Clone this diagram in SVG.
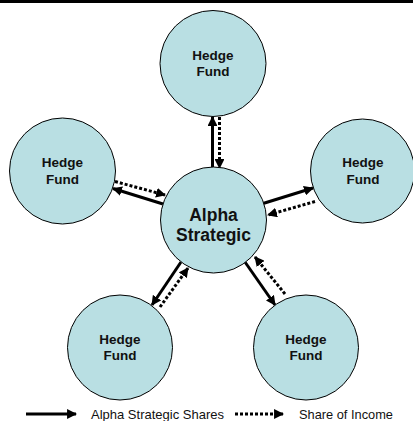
<svg xmlns="http://www.w3.org/2000/svg" width="413" height="421" viewBox="0 0 413 421">
  <style>
    .node { fill: #b9dfe3; stroke: #000; stroke-width: 1; }
    .lbl { font-family: "Liberation Sans", Arial, sans-serif; font-weight: bold; fill: #111; text-anchor: middle; }
    .fund { font-size: 13.5px; }
    .hub { font-size: 17.5px; }
    .solid { stroke: #000; stroke-width: 3; fill: none; marker-end: url(#head); }
    .dotted { stroke: #000; stroke-width: 3; stroke-dasharray: 3 2; fill: none; marker-end: url(#head); }
    .legend { font-family: "Liberation Sans", Arial, sans-serif; font-size: 13px; fill: #111; }
  </style>
  <defs>
    <marker id="head" viewBox="0 0 10 10" refX="9" refY="5" markerWidth="3.3" markerHeight="3.3" orient="auto" markerUnits="strokeWidth">
      <path d="M0,0 L10,5 L0,10 z" fill="#000"/>
    </marker>
  </defs>

  <rect x="0" y="0" width="413" height="3" fill="#000"/>

  <g id="connectors">
    <!-- top -->
    <line class="solid" x1="212.5" y1="167" x2="212.5" y2="117"/>
    <line class="dotted" x1="219.5" y1="117" x2="219.5" y2="168"/>
    <!-- left -->
    <line class="solid" x1="163" y1="204" x2="113" y2="188.5"/>
    <line class="dotted" x1="115" y1="181.5" x2="165" y2="195"/>
    <!-- right -->
    <line class="solid" x1="263" y1="203.5" x2="313" y2="188"/>
    <line class="dotted" x1="315" y1="201.5" x2="268" y2="215"/>
    <!-- bottom left -->
    <line class="solid" x1="181" y1="262" x2="152" y2="305"/>
    <line class="dotted" x1="160" y1="307" x2="188" y2="268"/>
    <!-- bottom right -->
    <line class="solid" x1="245" y1="262" x2="275" y2="305"/>
    <line class="dotted" x1="285" y1="294" x2="255" y2="257"/>
  </g>

  <g id="hub">
    <circle class="node" cx="213.5" cy="220" r="53"/>
    <text class="lbl hub" x="213.5" y="221">Alpha</text>
    <text class="lbl hub" x="213.5" y="240.5">Strategic</text>
  </g>
  <g id="fund-top">
    <circle class="node" cx="213" cy="63.5" r="53"/>
    <text class="lbl fund" x="213" y="59.5">Hedge</text>
    <text class="lbl fund" x="213" y="76">Fund</text>
  </g>
  <g id="fund-left">
    <circle class="node" cx="62.5" cy="171" r="53"/>
    <text class="lbl fund" x="62.5" y="167">Hedge</text>
    <text class="lbl fund" x="62.5" y="183.5">Fund</text>
  </g>
  <g id="fund-right">
    <circle class="node" cx="362.5" cy="171" r="52"/>
    <text class="lbl fund" x="363" y="167">Hedge</text>
    <text class="lbl fund" x="363" y="183.5">Fund</text>
  </g>
  <g id="fund-bottom-left">
    <circle class="node" cx="120" cy="347.5" r="52.5"/>
    <text class="lbl fund" x="120" y="343.5">Hedge</text>
    <text class="lbl fund" x="120" y="360">Fund</text>
  </g>
  <g id="fund-bottom-right">
    <circle class="node" cx="306" cy="347.5" r="52.5"/>
    <text class="lbl fund" x="306" y="343.5">Hedge</text>
    <text class="lbl fund" x="306" y="360">Fund</text>
  </g>

  <g id="legend">
    <line class="solid" x1="26" y1="414" x2="76" y2="414"/>
    <text class="legend" x="91" y="418.5" textLength="133" lengthAdjust="spacingAndGlyphs">Alpha Strategic Shares</text>
    <line class="dotted" x1="235" y1="414" x2="283" y2="414"/>
    <text class="legend" x="299" y="418.5" textLength="94" lengthAdjust="spacingAndGlyphs">Share of Income</text>
  </g>
</svg>
